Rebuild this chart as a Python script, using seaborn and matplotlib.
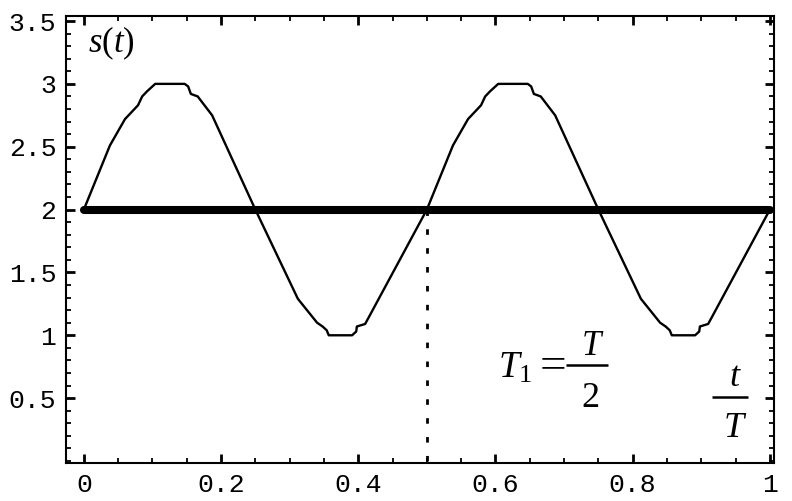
import matplotlib
matplotlib.use("Agg")
import matplotlib.pyplot as plt
import seaborn as sns
import pandas as pd
import numpy as np
from matplotlib.ticker import MultipleLocator, FixedLocator

# ---- data ----
t_vals = [0.000, 0.038, 0.060, 0.079, 0.085, 0.092, 0.104, 0.147, 0.152, 0.156,
          0.166, 0.187, 0.250, 0.312, 0.340, 0.348, 0.354, 0.357, 0.391, 0.397,
          0.398, 0.410, 0.417, 0.500,
          0.538, 0.560, 0.579, 0.585, 0.592, 0.604, 0.647, 0.652, 0.656,
          0.666, 0.687, 0.750, 0.812, 0.840, 0.848, 0.854, 0.857, 0.891, 0.897,
          0.898, 0.910, 0.917, 1.000]
s_vals = [2.00, 2.51, 2.72, 2.83, 2.90, 2.94, 3.00, 3.00, 2.98, 2.92,
          2.90, 2.75, 2.00, 1.29, 1.10, 1.07, 1.04, 1.00, 1.00, 1.03,
          1.07, 1.09, 1.16, 2.00,
          2.51, 2.72, 2.83, 2.90, 2.94, 3.00, 3.00, 2.98, 2.92,
          2.90, 2.75, 2.00, 1.29, 1.10, 1.07, 1.04, 1.00, 1.00, 1.03,
          1.07, 1.09, 1.16, 2.00]
mean_t = [0.0, 1.0]
mean_s = [2.0, 2.0]
marker_t = [0.5, 0.5]
marker_s = [0.0, 2.0]
x_ticks = [0, 0.2, 0.4, 0.6, 0.8, 1.0]
x_labels = ["0", "0.2", "0.4", "0.6", "0.8", "1"]
y_ticks = [0.5, 1, 1.5, 2, 2.5, 3, 3.5]
y_labels = ["0.5", "1", "1.5", "2", "2.5", "3", "3.5"]

sns.set_theme(style="ticks")
plt.rcParams['mathtext.fontset'] = 'custom'
plt.rcParams['mathtext.rm'] = 'Liberation Serif'
plt.rcParams['mathtext.it'] = 'Liberation Serif:italic'
plt.rcParams['mathtext.bf'] = 'Liberation Serif:bold'

fig = plt.figure(figsize=(7.92, 5.01), dpi=100)
ax = fig.add_axes([66/792, 38/501, (774-66)/792, (463-16)/501])

df = pd.DataFrame({"t": t_vals, "s": s_vals})
sns.lineplot(data=df, x="t", y="s", ax=ax, color="black", linewidth=1.7,
             estimator=None, sort=False)
mean_df = pd.DataFrame({"t": mean_t, "s": mean_s})
sns.lineplot(data=mean_df, x="t", y="s", ax=ax, color="black", linewidth=5.8,
             estimator=None, sort=False, solid_capstyle="round")
ax.plot(marker_t, marker_s, color="black", linewidth=2.0,
        linestyle=(0, (2, 4.8)), dash_capstyle="butt")

ax.set_xlim(-0.026, 1.006)
ax.set_ylim(-0.016, 3.54)
ax.set_xlabel("")
ax.set_ylabel("")

ax.xaxis.set_major_locator(FixedLocator(x_ticks))
ax.set_xticklabels(x_labels)
ax.yaxis.set_major_locator(FixedLocator(y_ticks))
ax.set_yticklabels(y_labels)
ax.xaxis.set_minor_locator(MultipleLocator(0.05))
ax.yaxis.set_minor_locator(MultipleLocator(0.1))

for sp in ax.spines.values():
    sp.set_visible(True)
    sp.set_linewidth(1.5)
    sp.set_color("black")

ax.tick_params(which="both", direction="in", top=True, right=True,
               color="black")
ax.tick_params(which="major", length=6.5, width=2.0, pad=7,
               labelsize=19, labelcolor="black")
ax.tick_params(which="minor", length=3.6, width=1.3)
for lab in ax.get_xticklabels() + ax.get_yticklabels():
    lab.set_fontfamily("Liberation Mono")

# annotations (fractions built from text pieces and bars)
ax.text(0.006, 3.32, r"$s(t)$", fontsize=25, ha="left", va="center",
        color="black")

ax.text(0.6035, 0.662, r"$T_1$", fontsize=27, ha="left", va="baseline",
        color="black")
ax.text(0.6640, 0.748, "=", fontsize=34, ha="left", va="center",
        family="Liberation Serif", color="black")
ax.text(0.742, 0.844, r"$T$", fontsize=25, ha="center", va="baseline",
        color="black")
ax.text(0.7376, 0.432, r"$\mathit{2}$", fontsize=26, ha="center",
        va="baseline", color="black")
ax.plot([0.7026, 0.7638], [0.765, 0.765], color="black", linewidth=1.8,
        solid_capstyle="butt")

ax.text(0.950, 0.599, r"$t$", fontsize=26, ha="center", va="baseline",
        color="black")
ax.text(0.950, 0.187, r"$T$", fontsize=26, ha="center", va="baseline",
        color="black")
ax.plot([0.9155, 0.968], [0.511, 0.511], color="black", linewidth=1.8,
        solid_capstyle="butt")

fig.savefig("out.png", dpi=100)
